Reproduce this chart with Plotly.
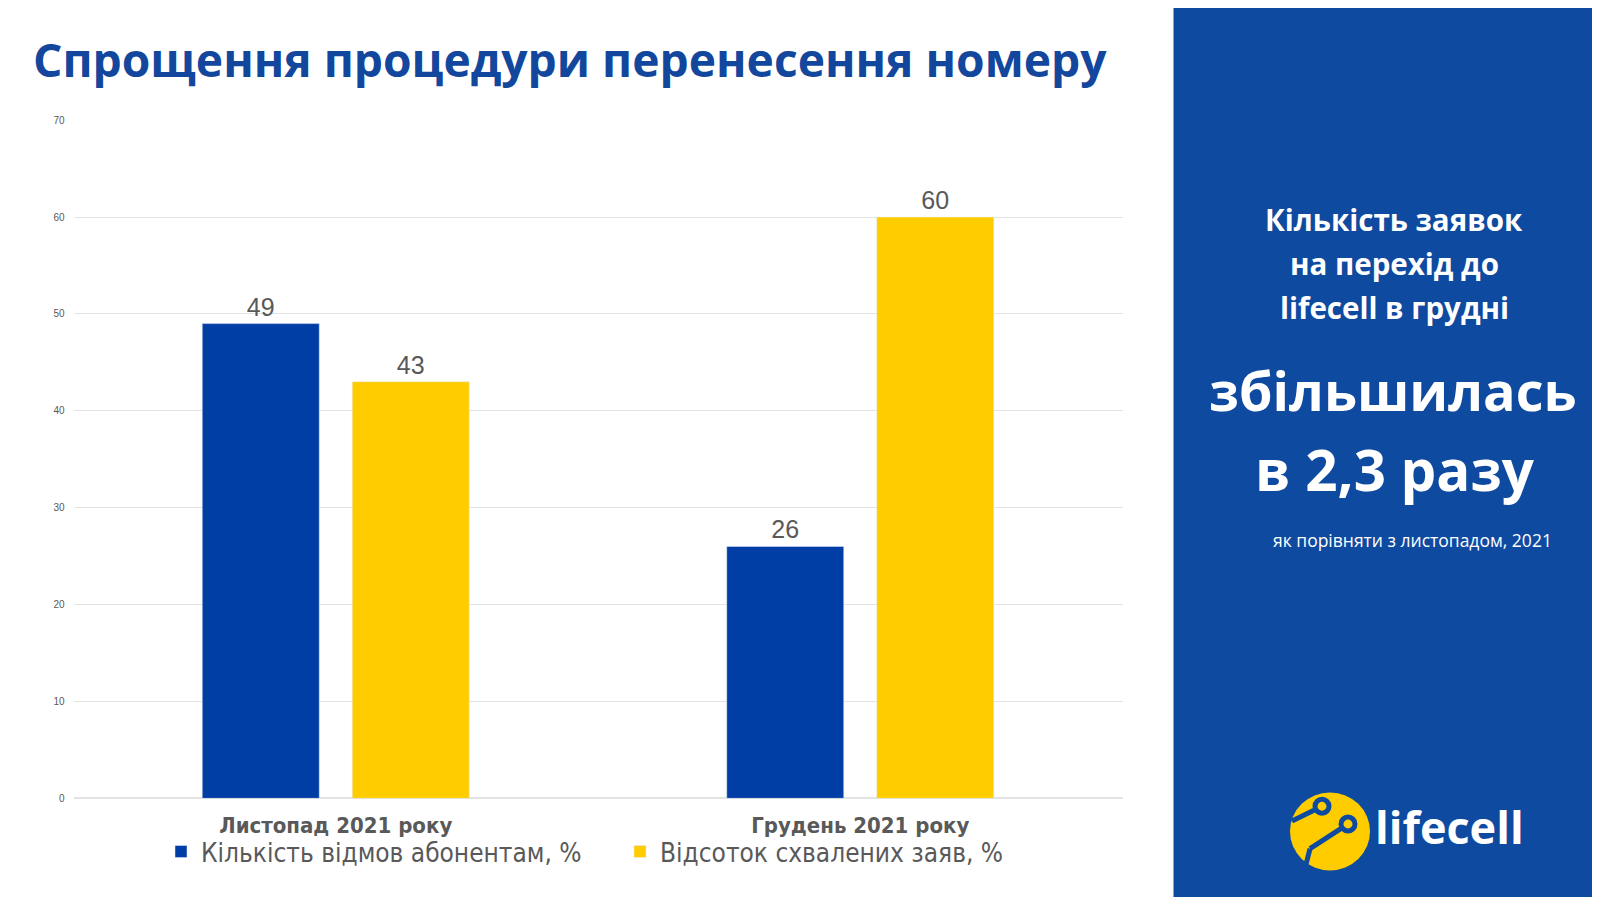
import plotly.graph_objects as go

W, H = 1600, 897

categories = ["Листопад 2021 року", "Грудень 2021 року"]
refusals = [49, 26]
approved = [43, 60]
series_names = ["Кількість відмов абонентам, %", "Відсоток схвалених заяв, %"]
y_ticks = [0, 10, 20, 30, 40, 50, 60, 70]

BLUE = "#003da5"
YELLOW = "#ffcc00"
PANEL = "#0e4a9f"
GREY = "#595959"
NARROW = "DejaVu Sans Condensed, Roboto, Liberation Sans, sans-serif"


def px(x):
    return x / W


def py(y):
    return 1 - y / H


fig = go.Figure()
fig.add_trace(go.Bar(
    x=categories, y=refusals, name=series_names[0],
    marker_color=BLUE, text=refusals, textposition="outside",
    textfont=dict(size=25, color=GREY, family="Liberation Sans, Arial"),
    cliponaxis=False))
fig.add_trace(go.Bar(
    x=categories, y=approved, name=series_names[1],
    marker_color=YELLOW, text=approved, textposition="outside",
    textfont=dict(size=25, color=GREY, family="Liberation Sans, Arial"),
    cliponaxis=False))

shapes = [
    # right blue panel
    dict(type="rect", xref="paper", yref="paper", x0=px(1165.5), x1=1.01, y0=-0.01, y1=1.01,
         fillcolor=PANEL, line_width=0, layer="below"),
    # logo
    dict(type="circle", xref="paper", yref="paper",
         x0=px(1282), x1=px(1362), y0=py(868), y1=py(789),
         fillcolor=YELLOW, line_width=0),
    dict(type="line", xref="paper", yref="paper",
         x0=px(1284), y0=py(818), x1=px(1308), y1=py(806),
         line=dict(color=PANEL, width=5)),
    dict(type="line", xref="paper", yref="paper",
         x0=px(1302), y0=py(846), x1=px(1334), y1=py(825),
         line=dict(color=PANEL, width=5)),
    dict(type="line", xref="paper", yref="paper",
         x0=px(1302), y0=py(846), x1=px(1297), y1=py(866),
         line=dict(color=PANEL, width=5)),
    dict(type="circle", xref="paper", yref="paper",
         x0=px(1307), x1=px(1321), y0=py(810), y1=py(796),
         fillcolor=YELLOW, line=dict(color=PANEL, width=5)),
    dict(type="circle", xref="paper", yref="paper",
         x0=px(1333), x1=px(1347), y0=py(828), y1=py(814),
         fillcolor=YELLOW, line=dict(color=PANEL, width=5)),
]

annotations = [
    dict(text="<b>Спрощення процедури перенесення номеру</b>",
         x=px(23), y=py(46.5), xanchor="left",
         font=dict(family="Open Sans", size=46.2, color="#12479d")),
    dict(text="<b>Кількість заявок</b>", x=px(1386), y=py(208),
         font=dict(family="Open Sans", size=29.5, color="white")),
    dict(text="<b>на перехід до</b>", x=px(1386), y=py(252.5),
         font=dict(family="Open Sans", size=29.5, color="white")),
    dict(text="<b>lifecell в грудні</b>", x=px(1386), y=py(297),
         font=dict(family="Open Sans", size=29.5, color="white")),
    dict(text="<b>збільшилась</b>", x=px(1385), y=py(381.5),
         font=dict(family="Open Sans", size=54, color="white")),
    dict(text="<b>в 2,3 разу</b>", x=px(1387), y=py(461.5),
         font=dict(family="Open Sans", size=56.5, color="white")),
    dict(text="як порівняти з листопадом, 2021", x=px(1404), y=py(533),
         font=dict(family="Open Sans", size=17.5, color="white")),
    dict(text="<b>lifecell</b>", x=px(1365), y=py(824), xanchor="left",
         font=dict(family="Open Sans", size=45, color="white")),
]
for a in annotations:
    a.update(xref="paper", yref="paper", showarrow=False)
    a.setdefault("xanchor", "center")
    a.setdefault("yanchor", "middle")

fig.update_layout(
    width=W, height=H,
    margin=dict(l=0, r=0, t=0, b=0),
    paper_bgcolor="white", plot_bgcolor="white",
    barmode="group", bargap=0.428, bargroupgap=0.22,
    xaxis=dict(domain=[px(65.5), px(1114.5)], showgrid=False, showline=False,
               tickfont=dict(family=NARROW, size=22, color=GREY, weight="bold"),
               ticklabelstandoff=12),
    yaxis=dict(domain=[py(795), py(107.6)], range=[0, 70], tickvals=y_ticks,
               gridcolor="#e3e3e3", gridwidth=1, zeroline=True, zerolinecolor="#e3e3e3",
               tickfont=dict(family="Liberation Sans, Arial", size=10, color=GREY),
               ticklabelstandoff=8),
    legend=dict(orientation="h", x=px(153), y=py(849), xanchor="left", yanchor="middle",
                entrywidth=414, entrywidthmode="pixels", bgcolor="rgba(0,0,0,0)",
                font=dict(family=NARROW, size=26, color=GREY),
                itemwidth=30),
    shapes=shapes,
    annotations=annotations,
    showlegend=True,
)

fig.write_html("out.html")
